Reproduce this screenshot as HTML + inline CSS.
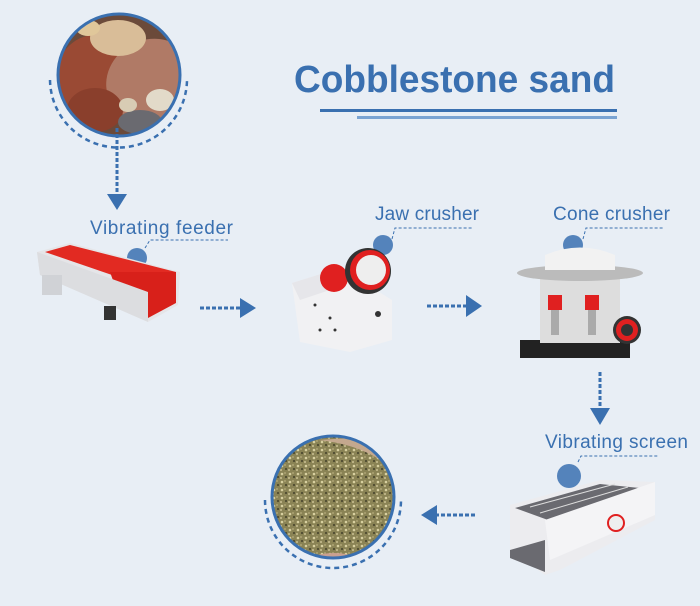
<!DOCTYPE html>
<html><head><meta charset="utf-8"><style>
html,body{margin:0;padding:0;background:#e8eef5;}
svg{display:block}
text{font-family:"Liberation Sans",sans-serif}
</style></head><body>
<svg width="700" height="606" viewBox="0 0 700 606" xmlns="http://www.w3.org/2000/svg">
<rect width="700" height="606" fill="#e8eef5"/>
<defs>
<clipPath id="c1"><circle cx="119" cy="75" r="60"/></clipPath>
<clipPath id="c2"><circle cx="333" cy="497" r="60"/></clipPath>
<pattern id="sand" width="8" height="8" patternUnits="userSpaceOnUse">
<rect width="8" height="8" fill="#8a8355"/>
<circle cx="2" cy="2" r="1.3" fill="#d8d0a0"/>
<circle cx="6" cy="5" r="1.1" fill="#4e4a30"/>
<circle cx="5" cy="1" r="0.9" fill="#b7ad7c"/>
<circle cx="1" cy="6" r="1" fill="#c9c094"/>
</pattern>
</defs>
<!-- title -->
<text x="294" y="92" font-size="38" font-weight="bold" fill="#3a70b0" textLength="321" lengthAdjust="spacingAndGlyphs">Cobblestone sand</text>
<rect x="320" y="109" width="297" height="3" fill="#3a70b0"/>
<rect x="357" y="116" width="260" height="3" fill="#7aa3d2"/>

<!-- stones circle -->
<g clip-path="url(#c1)">
<rect x="55" y="10" width="130" height="130" fill="#6b4a3a"/>
<ellipse cx="95" cy="80" rx="40" ry="45" fill="#9a4a34"/>
<ellipse cx="150" cy="80" rx="45" ry="40" fill="#b07a66" transform="rotate(-30 150 80)"/>
<ellipse cx="118" cy="38" rx="28" ry="18" fill="#d9bd98"/>
<ellipse cx="95" cy="110" rx="28" ry="22" fill="#8a3f2c"/>
<ellipse cx="140" cy="122" rx="22" ry="12" fill="#6a6a70"/>
<ellipse cx="160" cy="100" rx="14" ry="11" fill="#e2dac9"/>
<ellipse cx="128" cy="105" rx="9" ry="7" fill="#d8ccb4"/>
<ellipse cx="88" cy="28" rx="12" ry="8" fill="#e0c79a"/>
</g>
<circle cx="119" cy="75" r="61" fill="none" stroke="#3a70b0" stroke-width="3"/>
<path d="M50 80 A68 68 0 0 0 187 78" fill="none" stroke="#3a70b0" stroke-width="2.5" stroke-dasharray="5 4"/>

<!-- sand circle -->
<g clip-path="url(#c2)">
<rect x="270" y="435" width="130" height="130" fill="url(#sand)"/>
<path d="M318 440 Q370 445 398 475 L398 435 Z" fill="#c4a88e"/>
<path d="M300 560 Q340 545 365 562 Z" fill="#c9a090"/>
</g>
<circle cx="333" cy="497" r="61" fill="none" stroke="#3a70b0" stroke-width="3"/>
<path d="M265 500 A68 68 0 0 0 401 500" fill="none" stroke="#3a70b0" stroke-width="2.5" stroke-dasharray="5 4"/>

<!-- arrows -->
<g fill="#3a70b0">
<line x1="117" y1="128" x2="117" y2="196" stroke="#3a70b0" stroke-width="3" stroke-dasharray="4 2"/>
<polygon points="107,194 127,194 117,210"/>
<line x1="200" y1="308" x2="242" y2="308" stroke="#3a70b0" stroke-width="3" stroke-dasharray="4 2"/>
<polygon points="240,298 256,308 240,318"/>
<line x1="427" y1="306" x2="468" y2="306" stroke="#3a70b0" stroke-width="3" stroke-dasharray="4 2"/>
<polygon points="466,295 482,306 466,317"/>
<line x1="600" y1="372" x2="600" y2="410" stroke="#3a70b0" stroke-width="3" stroke-dasharray="4 2"/>
<polygon points="590,408 610,408 600,425"/>
<line x1="475" y1="515" x2="435" y2="515" stroke="#3a70b0" stroke-width="3" stroke-dasharray="4 2"/>
<polygon points="437,505 421,515 437,525"/>
</g>

<!-- labels -->
<g fill="#3a70b0" font-size="19">
<text x="90" y="234" textLength="143">Vibrating feeder</text>
<text x="375" y="220" textLength="104">Jaw crusher</text>
<text x="553" y="220" textLength="117">Cone crusher</text>
<text x="545" y="448" textLength="143">Vibrating screen</text>
</g>
<g stroke="#3a70b0" stroke-width="1" stroke-dasharray="3 2" fill="none">
<path d="M145 248 L150 240 L228 240"/>
<path d="M392 239 L395 228 L473 228"/>
<path d="M583 239 L586 228 L664 228"/>
<path d="M578 462 L581 456 L658 456"/>
</g>
<g fill="#3a70b0" opacity="0.85">
<circle cx="137" cy="258" r="10"/>
<circle cx="383" cy="245" r="10"/>
<circle cx="573" cy="245" r="10"/>
<circle cx="569" cy="476" r="12"/>
</g>

<!-- feeder -->
<polygon points="37,252 70,243 180,272 178,305 148,322 40,275" fill="#e5e5e8"/>
<polygon points="45,252 70,245 176,272 150,288" fill="#e22a22"/>
<polygon points="110,272 176,272 176,303 148,318 120,300" fill="#d8201a"/>
<polygon points="37,252 148,292 148,322 40,275" fill="#dcdde0"/>
<rect x="42" y="275" width="20" height="20" fill="#d0d2d6"/>
<rect x="104" y="306" width="12" height="14" fill="#333"/>

<!-- jaw crusher -->
<polygon points="292,283 340,268 392,300 392,340 350,352 300,342" fill="#f1f1f3"/>
<polygon points="292,283 340,268 345,285 300,300" fill="#e6e6ea"/>
<circle cx="334" cy="278" r="14" fill="#e02020"/>
<circle cx="368" cy="271" r="23" fill="#333"/>
<circle cx="370" cy="270" r="20" fill="#e02020"/>
<circle cx="371" cy="270" r="15" fill="#eee"/>
<g fill="#333"><circle cx="315" cy="305" r="1.5"/><circle cx="330" cy="318" r="1.5"/><circle cx="335" cy="330" r="1.5"/><circle cx="320" cy="330" r="1.5"/><circle cx="378" cy="314" r="3"/></g>

<!-- cone crusher -->
<rect x="520" y="340" width="110" height="18" fill="#222"/>
<rect x="540" y="275" width="80" height="68" fill="#ddd"/>
<ellipse cx="580" cy="273" rx="63" ry="8" fill="#bbb"/>
<path d="M545 270 L545 255 Q580 240 615 255 L615 270 Z" fill="#f2f2f2"/>
<rect x="548" y="295" width="14" height="15" fill="#e02020"/>
<rect x="585" y="295" width="14" height="15" fill="#e02020"/>
<rect x="551" y="310" width="8" height="25" fill="#aaa"/>
<rect x="588" y="310" width="8" height="25" fill="#aaa"/>
<circle cx="627" cy="330" r="14" fill="#333"/>
<circle cx="627" cy="330" r="11" fill="#e02020"/>
<circle cx="627" cy="330" r="6" fill="#333"/>

<!-- vibrating screen -->
<polygon points="510,505 600,480 655,482 655,520 560,570 545,575 510,550" fill="#ececef"/>
<polygon points="515,508 600,484 640,488 548,520" fill="#6a6a70"/>
<g stroke="#ddd" stroke-width="1"><line x1="530" y1="507" x2="615" y2="484"/><line x1="540" y1="513" x2="628" y2="487"/></g>
<polygon points="510,550 545,540 545,572 510,558" fill="#6a6a70"/>
<polygon points="545,520 655,482 655,515 550,560" fill="#f4f4f6"/>
<circle cx="616" cy="523" r="8" fill="#eee" stroke="#e02020" stroke-width="2"/>
</svg>
</body></html>
